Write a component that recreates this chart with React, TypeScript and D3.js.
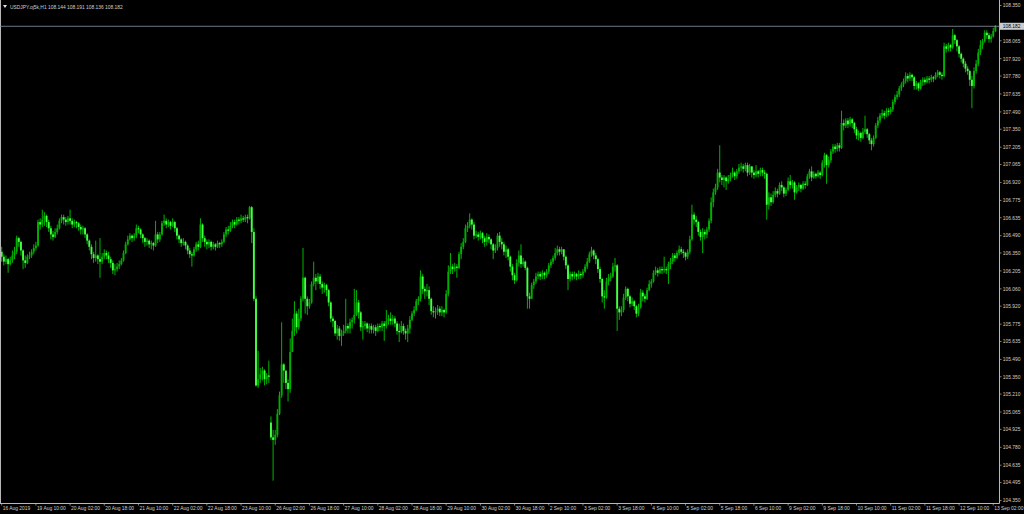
import React from 'react';
import * as d3 from 'd3';

// USDJPY H1, 16 Aug 2019 18:00 .. 13 Sep 2019 03:00 (hourly bars)
const symbolTitle = 'USDJPY.oj5k,H1';
const firstOpen = 106.36;
const gapOpens = [{ bar: 126, open: 104.98 }];

const closes = [
  106.32,106.28,106.30,106.26,106.29,106.33,106.36,106.47,106.44,106.37,
  106.29,106.27,106.32,106.33,106.36,106.39,106.41,106.60,106.58,106.62,
  106.65,106.60,106.55,106.50,106.48,106.52,106.55,106.61,106.64,106.62,
  106.60,106.63,106.61,106.58,106.60,106.59,106.56,106.54,106.55,106.50,
  106.45,106.40,106.34,106.31,106.33,106.30,106.28,106.32,106.35,106.33,
  106.30,106.27,106.21,106.22,106.24,106.26,106.29,106.35,106.42,106.46,
  106.49,106.47,106.49,106.55,106.54,106.50,106.47,106.44,106.45,106.42,
  106.43,106.41,106.50,106.46,106.50,106.59,106.61,106.58,106.60,106.57,
  106.60,106.55,106.49,106.46,106.43,106.44,106.41,106.37,106.34,106.33,
  106.38,106.42,106.40,106.58,106.47,106.44,106.42,106.44,106.40,106.42,
  106.40,106.43,106.42,106.44,106.50,106.54,106.53,106.57,106.60,106.58,
  106.62,106.61,106.63,106.62,106.64,106.63,106.72,106.52,105.98,105.28,
  105.33,105.37,105.40,105.33,105.36,105.35,104.86,104.84,104.88,105.05,
  105.20,105.45,105.40,105.30,105.25,105.55,105.72,105.86,105.75,105.82,
  105.98,106.15,105.98,105.92,105.95,106.10,106.15,106.12,106.16,106.10,
  106.07,106.09,106.05,105.95,105.82,105.80,105.70,105.74,105.68,105.70,
  105.72,105.76,105.74,105.79,105.81,105.85,105.95,105.87,105.75,105.76,
  105.78,105.74,105.76,105.73,105.75,105.72,105.76,105.75,105.78,105.76,
  105.80,105.82,105.80,105.82,105.78,105.72,105.71,105.76,105.72,105.70,
  105.74,105.81,105.86,105.89,105.96,105.98,106.16,106.06,106.04,106.05,
  105.98,105.88,105.87,105.88,105.90,105.87,105.89,105.87,106.02,106.20,
  106.24,106.22,106.24,106.23,106.34,106.40,106.44,106.55,106.57,106.62,
  106.58,106.49,106.50,106.48,106.51,106.47,106.44,106.48,106.46,106.42,
  106.37,106.39,106.49,106.44,106.42,106.36,106.38,106.32,106.24,106.17,
  106.13,106.27,106.33,106.26,106.28,106.23,106.00,105.98,106.09,106.12,
  106.16,106.18,106.16,106.19,106.17,106.20,106.25,106.28,106.31,106.35,
  106.38,106.36,106.38,106.32,106.25,106.14,106.18,106.16,106.18,106.16,
  106.18,106.17,106.20,106.24,106.28,106.34,106.37,106.33,106.30,106.22,
  106.14,106.00,105.99,106.12,106.15,106.16,106.24,106.25,105.90,105.87,
  105.89,105.99,106.06,106.00,105.94,105.96,105.92,105.86,105.91,106.03,
  106.00,105.98,106.05,106.10,106.12,106.19,106.21,106.19,106.22,106.21,
  106.22,106.21,106.26,106.28,106.33,106.31,106.35,106.38,106.36,106.35,
  106.32,106.36,106.46,106.66,106.62,106.60,106.52,106.48,106.52,106.50,
  106.54,106.61,106.76,106.84,106.88,107.00,106.96,106.94,106.96,106.93,
  106.95,106.98,107.00,106.97,107.01,107.04,107.05,107.03,107.06,107.00,
  107.05,107.00,106.98,107.01,106.99,107.02,107.00,106.99,106.74,106.80,
  106.76,106.82,106.85,106.83,106.90,106.88,106.83,106.86,106.93,106.90,
  106.92,106.84,106.88,106.90,106.87,106.91,106.90,106.97,107.01,106.96,
  106.99,106.97,107.00,106.98,107.08,107.14,107.06,107.10,107.17,107.21,
  107.19,107.22,107.20,107.40,107.38,107.42,107.39,107.43,107.40,107.35,
  107.30,107.32,107.28,107.33,107.35,107.31,107.26,107.23,107.28,107.38,
  107.42,107.46,107.48,107.46,107.50,107.49,107.51,107.57,107.61,107.63,
  107.68,107.71,107.74,107.78,107.76,107.79,107.77,107.70,107.72,107.68,
  107.73,107.75,107.73,107.76,107.75,107.77,107.76,107.79,107.81,107.79,
  107.78,108.02,108.00,108.03,108.01,108.11,108.07,108.02,107.96,107.92,
  107.88,107.84,107.82,107.75,107.70,107.82,107.88,107.97,108.03,108.06,
  108.13,108.11,108.08,108.10,108.144,108.182,
];

const highs = [
  106.40,106.34,106.33,106.31,106.32,106.37,106.40,106.49,106.48,106.45,
  106.38,106.33,106.34,106.36,106.38,106.42,106.44,106.62,106.63,106.70,
  106.68,106.66,106.62,106.57,106.53,106.55,106.58,106.63,106.66,106.66,
  106.64,106.65,106.70,106.63,106.62,106.61,106.60,106.58,106.57,106.56,
  106.51,106.46,106.42,106.36,106.45,106.34,106.47,106.35,106.38,106.37,
  106.36,106.32,106.29,106.26,106.27,106.29,106.31,106.37,106.44,106.49,
  106.51,106.50,106.51,106.58,106.57,106.55,106.51,106.48,106.47,106.46,
  106.45,106.44,106.61,106.52,106.52,106.61,106.66,106.63,106.62,106.61,
  106.63,106.61,106.56,106.50,106.47,106.47,106.45,106.42,106.39,106.36,
  106.40,106.44,106.45,106.63,106.59,106.49,106.46,106.46,106.45,106.44,
  106.43,106.45,106.44,106.46,106.52,106.56,106.57,106.60,106.62,106.62,
  106.64,106.64,106.66,106.65,106.66,106.66,106.73,106.73,106.55,106.00,
  105.56,105.42,105.43,105.41,105.38,105.48,105.03,104.92,104.92,105.09,
  105.23,105.79,105.46,105.40,105.33,105.66,105.82,105.96,105.88,105.90,
  106.00,106.39,106.16,106.00,105.98,106.12,106.28,106.18,106.19,106.18,
  106.12,106.11,106.10,106.06,105.96,105.84,105.81,105.77,105.76,105.73,
  105.77,105.98,105.78,105.82,105.83,106.06,106.05,105.97,105.88,105.80,
  105.80,105.79,105.78,105.78,105.77,105.77,105.78,105.78,105.80,105.80,
  105.89,105.85,105.87,105.85,105.84,105.80,105.78,105.80,105.78,105.74,
  105.77,105.84,105.88,105.92,105.98,106.00,106.21,106.18,106.08,106.10,
  106.08,105.99,105.92,105.91,105.93,105.92,105.92,105.90,106.05,106.25,
  106.35,106.26,106.27,106.26,106.36,106.43,106.47,106.58,106.60,106.67,
  106.63,106.60,106.53,106.52,106.53,106.52,106.49,106.51,106.50,106.47,
  106.43,106.42,106.51,106.52,106.47,106.44,106.41,106.39,106.33,106.26,
  106.19,106.30,106.37,106.42,106.31,106.29,106.24,106.03,106.11,106.14,
  106.19,106.20,106.20,106.21,106.20,106.22,106.27,106.30,106.33,106.39,
  106.41,106.40,106.40,106.38,106.33,106.26,106.20,106.20,106.20,106.19,
  106.21,106.20,106.22,106.26,106.31,106.36,106.40,106.38,106.35,106.31,
  106.24,106.15,106.05,106.15,106.18,106.19,106.27,106.31,106.26,105.92,
  105.92,106.02,106.08,106.07,106.01,105.99,105.97,105.93,105.94,106.06,
  106.05,106.02,106.07,106.13,106.14,106.21,106.24,106.23,106.24,106.24,
  106.32,106.24,106.28,106.31,106.35,106.35,106.37,106.41,106.40,106.38,
  106.36,106.38,106.49,106.74,106.68,106.65,106.61,106.54,106.55,106.54,
  106.56,106.63,106.80,106.87,106.91,107.03,107.22,106.98,106.98,106.97,
  106.98,107.00,107.04,107.01,107.03,107.07,107.08,107.07,107.08,107.08,
  107.07,107.04,107.02,107.06,107.02,107.04,107.04,107.02,107.00,106.84,
  106.83,106.85,106.88,106.87,106.92,106.93,106.89,106.88,106.96,106.98,
  106.94,106.93,106.90,106.92,106.91,106.93,106.93,106.99,107.03,107.05,
  107.01,107.00,107.02,107.01,107.10,107.16,107.15,107.13,107.19,107.23,
  107.23,107.24,107.24,107.50,107.43,107.44,107.44,107.45,107.44,107.41,
  107.37,107.34,107.33,107.36,107.46,107.36,107.32,107.28,107.30,107.40,
  107.45,107.48,107.51,107.50,107.52,107.52,107.53,107.59,107.63,107.66,
  107.70,107.73,107.76,107.81,107.80,107.81,107.80,107.78,107.74,107.73,
  107.75,107.77,107.77,107.78,107.78,107.79,107.78,107.81,107.83,107.82,
  107.81,108.05,108.04,108.05,108.04,108.16,108.12,108.08,108.03,107.97,
  107.93,107.90,107.86,107.83,107.78,107.85,107.91,108.00,108.07,108.08,
  108.15,108.15,108.13,108.12,108.17,108.191,
];

const lows = [
  106.28,106.25,106.26,106.19,106.25,106.27,106.30,106.34,106.40,106.33,
  106.22,106.23,106.26,106.30,106.31,106.34,106.37,106.40,106.54,106.56,
  106.57,106.56,106.52,106.46,106.45,106.47,106.50,106.54,106.59,106.58,
  106.57,106.58,106.58,106.55,106.56,106.55,106.53,106.50,106.50,106.47,
  106.42,106.37,106.30,106.27,106.28,106.26,106.15,106.26,106.30,106.30,
  106.27,106.23,106.18,106.17,106.20,106.22,106.25,106.28,106.34,106.41,
  106.45,106.44,106.45,106.47,106.51,106.47,106.43,106.40,106.41,106.39,
  106.38,106.37,106.40,106.43,106.44,106.49,106.57,106.55,106.56,106.54,
  106.56,106.52,106.46,106.43,106.40,106.41,106.38,106.34,106.31,106.24,
  106.32,106.36,106.37,106.39,106.44,106.40,106.38,106.39,106.37,106.38,
  106.37,106.39,106.39,106.40,106.43,106.48,106.50,106.52,106.55,106.55,
  106.57,106.58,106.59,106.60,106.60,106.59,106.62,106.43,105.96,105.27,
  105.26,105.30,105.32,105.28,105.29,105.30,104.84,104.51,104.80,104.86,
  105.04,105.18,105.30,105.25,105.15,105.22,105.55,105.68,105.70,105.73,
  105.80,105.96,105.86,105.85,105.90,105.94,106.08,106.05,106.10,106.06,
  106.02,106.03,106.00,105.92,105.79,105.75,105.68,105.65,105.64,105.60,
  105.68,105.70,105.70,105.70,105.74,105.78,105.84,105.82,105.72,105.65,
  105.73,105.71,105.70,105.70,105.70,105.68,105.71,105.72,105.72,105.64,
  105.74,105.77,105.77,105.77,105.75,105.69,105.63,105.70,105.69,105.65,
  105.63,105.70,105.80,105.84,105.88,105.93,105.96,106.02,105.98,106.00,
  105.93,105.85,105.83,105.82,105.85,105.84,105.84,105.83,105.86,106.00,
  106.18,106.18,106.20,106.15,106.22,106.30,106.38,106.43,106.52,106.55,
  106.54,106.46,106.47,106.45,106.46,106.43,106.40,106.41,106.43,106.38,
  106.30,106.35,106.37,106.40,106.38,106.33,106.31,106.29,106.20,106.13,
  106.10,106.12,106.24,106.23,106.24,106.21,105.90,105.90,105.98,106.06,
  106.10,106.14,106.13,106.14,106.14,106.15,106.18,106.23,106.26,106.29,
  106.33,106.33,106.34,106.29,106.22,106.05,106.12,106.13,106.14,106.13,
  106.14,106.14,106.15,106.19,106.22,106.27,106.32,106.30,106.26,106.19,
  106.11,105.95,105.90,105.98,106.09,106.12,106.15,106.20,105.72,105.81,
  105.84,105.87,105.97,105.96,105.91,105.92,105.89,105.83,105.84,105.90,
  105.96,105.95,105.97,106.04,106.07,106.11,106.17,106.16,106.18,106.18,
  106.19,106.18,106.10,106.22,106.26,106.28,106.30,106.33,106.34,106.31,
  106.29,106.30,106.34,106.45,106.58,106.56,106.49,106.45,106.35,106.46,
  106.47,106.52,106.59,106.72,106.82,106.86,106.92,106.90,106.88,106.86,
  106.91,106.93,106.96,106.94,106.95,106.99,107.01,107.00,107.01,106.97,
  106.98,106.96,106.95,106.96,106.96,106.97,106.97,106.95,106.62,106.70,
  106.73,106.75,106.80,106.80,106.82,106.85,106.80,106.81,106.85,106.87,
  106.87,106.78,106.83,106.85,106.84,106.86,106.87,106.89,106.95,106.93,
  106.95,106.95,106.96,106.95,106.97,107.04,106.91,107.04,107.08,107.15,
  107.16,107.17,107.17,107.19,107.34,107.36,107.36,107.37,107.36,107.32,
  107.27,107.26,107.25,107.27,107.31,107.28,107.23,107.18,107.21,107.27,
  107.36,107.40,107.44,107.43,107.45,107.46,107.47,107.49,107.55,107.59,
  107.61,107.66,107.69,107.72,107.73,107.74,107.74,107.67,107.67,107.66,
  107.67,107.70,107.71,107.72,107.72,107.73,107.73,107.75,107.77,107.76,
  107.75,107.77,107.97,107.98,107.98,108.00,108.04,107.98,107.93,107.89,
  107.85,107.81,107.79,107.70,107.52,107.68,107.80,107.86,107.95,108.00,
  108.05,108.08,108.05,108.05,108.09,108.136,
];

const priceTicks = [
  '108.350','108.205','108.065','107.920','107.780','107.635','107.490','107.350',
  '107.205','107.065','106.920','106.775','106.635','106.490','106.350','106.205',
  '106.060','105.920','105.775','105.635','105.490','105.350','105.210','105.065',
  '104.925','104.780','104.635','104.495','104.350',
];

const timeLabels = [
  '16 Aug 2019','19 Aug 10:00','20 Aug 02:00','20 Aug 18:00','21 Aug 10:00',
  '22 Aug 02:00','22 Aug 18:00','23 Aug 10:00','26 Aug 02:00','26 Aug 18:00',
  '27 Aug 10:00','28 Aug 02:00','28 Aug 18:00','29 Aug 10:00','30 Aug 02:00',
  '30 Aug 18:00','2 Sep 10:00','3 Sep 02:00','3 Sep 18:00','4 Sep 10:00',
  '5 Sep 02:00','5 Sep 18:00','6 Sep 10:00','9 Sep 02:00','9 Sep 18:00',
  '10 Sep 10:00','11 Sep 02:00','11 Sep 18:00','12 Sep 10:00','13 Sep 02:00',
];
const barsPerTimeLabel = 16;

const W = 1024;
const H = 514;
const plotRight = 999.5;
const plotBottom = 503.5;
const font = '"Liberation Sans", Arial, sans-serif';
const axisColor = '#b8b8b8';
const textColor = '#d0d0d0';

export default function App() {
  const n = closes.length;
  const x = d3.scaleLinear().domain([0, n - 1]).range([1.7, 995.4]);
  const y = d3.scaleLinear().domain([104.35, 108.35]).range([500.5, 5.5]);

  const opens = closes.map((_, i) => (i === 0 ? firstOpen : closes[i - 1]));
  gapOpens.forEach((g) => { opens[g.bar] = g.open; });

  const bars = closes.map((c, i) => {
    const o = opens[i];
    const h = Math.max(highs[i], o, c);
    const l = Math.min(lows[i], o, c);
    return { i, o, h, l, c, bull: c >= o };
  });

  const last = bars[bars.length - 1];
  const lastY = y(last.c);
  const fmt = d3.format('.3f');

  return (
    <svg
      width={W}
      height={H}
      style={{ position: 'fixed', left: 0, top: 0, display: 'block', background: '#000' }}
    >
      <rect x={0} y={0} width={W} height={H} fill="#000" />
      {/* candles */}
      <g>
        {bars.map((b) => {
          const cx = x(b.i);
          const top = y(Math.max(b.o, b.c));
          const bot = y(Math.min(b.o, b.c));
          return (
            <g key={b.i}>
              <line x1={cx} x2={cx} y1={y(b.h)} y2={y(b.l)} stroke="#00b400" strokeWidth={1} />
              <rect
                x={cx - 0.95}
                y={top}
                width={1.9}
                height={Math.max(0.8, bot - top)}
                fill={b.bull ? '#00b000' : '#44ff44'}
              />
            </g>
          );
        })}
      </g>
      {/* frame */}
      <line x1={0.5} x2={0.5} y1={0} y2={plotBottom} stroke={axisColor} strokeWidth={1} />
      <line x1={plotRight} x2={plotRight} y1={0} y2={plotBottom} stroke={axisColor} strokeWidth={1} />
      <line x1={0} x2={plotRight} y1={plotBottom} y2={plotBottom} stroke={axisColor} strokeWidth={1} />
      {/* current price line */}
      <line x1={0} x2={plotRight} y1={lastY} y2={lastY} stroke="#8a96a3" strokeWidth={0.8} />
      {/* price axis (the tick label under the current-price box is covered, as in MT4) */}
      <g fontFamily={font} fontSize={4.9} fill={textColor}>
        {priceTicks.map((t) => {
          const ty = y(parseFloat(t));
          const covered = Math.abs(ty - lastY) < 6;
          return (
            <g key={t}>
              <line x1={plotRight} x2={plotRight + 2} y1={ty} y2={ty} stroke={axisColor} strokeWidth={0.7} />
              {!covered && <text x={plotRight + 3.3} y={ty + 1.8}>{t}</text>}
            </g>
          );
        })}
      </g>
      {/* current price label */}
      <rect x={plotRight + 0.5} y={lastY - 3.5} width={24} height={7} fill="#c8ccd0" />
      <text x={plotRight + 3.3} y={lastY + 1.8} fontFamily={font} fontSize={4.9} fill="#000">
        {fmt(last.c)}
      </text>
      {/* time axis */}
      <g fontFamily={font} fontSize={4.9} fill={textColor}>
        {timeLabels.map((t, k) => {
          const tx = x(k * barsPerTimeLabel);
          return (
            <g key={t}>
              <line x1={tx} x2={tx} y1={plotBottom} y2={plotBottom + 2} stroke={axisColor} strokeWidth={0.7} />
              <text x={tx + 1} y={509.6}>{t}</text>
            </g>
          );
        })}
      </g>
      {/* header */}
      <path d="M3,5 L7,5 L5,8 Z" fill="#e0e0e0" />
      <text x={10} y={9} fontFamily={font} fontSize={4.9} fill={textColor}>
        {`${symbolTitle}  ${fmt(last.o)} ${fmt(last.h)} ${fmt(last.l)} ${fmt(last.c)}`}
      </text>
    </svg>
  );
}
